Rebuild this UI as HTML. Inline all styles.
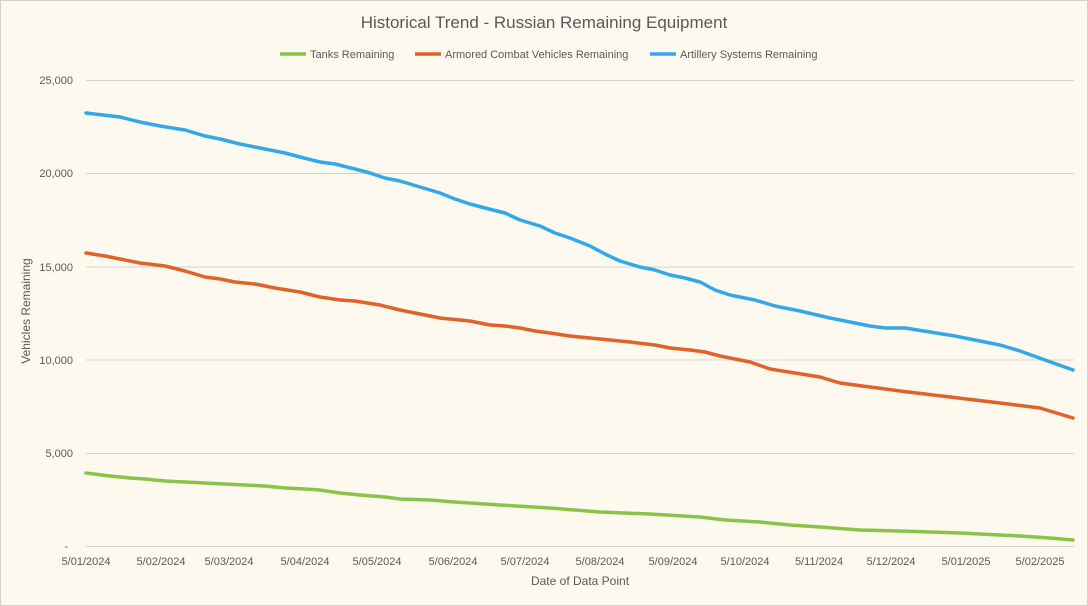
<!DOCTYPE html>
<html><head><meta charset="utf-8"><style>
html,body{margin:0;padding:0;background:#fdf9ee;}
svg{display:block;font-family:"Liberation Sans",sans-serif;}
</style></head><body>
<svg width="1088" height="606" viewBox="0 0 1088 606">
<rect x="0.5" y="0.5" width="1087" height="605" fill="#fdf9ee" stroke="#d0d0d0"/>
<text x="544" y="28" text-anchor="middle" font-size="17" fill="#595959">Historical Trend - Russian Remaining Equipment</text>
<g font-size="11" fill="#595959">
<line x1="280" y1="54" x2="306" y2="54" stroke="#8bc34a" stroke-width="3.5"/><text x="310" y="58">Tanks Remaining</text>
<line x1="415" y1="54" x2="441" y2="54" stroke="#e0622a" stroke-width="3.5"/><text x="445" y="58">Armored Combat Vehicles Remaining</text>
<line x1="650" y1="54" x2="676" y2="54" stroke="#33a8e8" stroke-width="3.5"/><text x="680" y="58">Artillery Systems Remaining</text>
</g>
<g stroke="#d3d3d3" stroke-width="1">
<line x1="86" y1="80.5" x2="1074" y2="80.5"/><line x1="86" y1="173.5" x2="1074" y2="173.5"/><line x1="86" y1="267" x2="1074" y2="267"/><line x1="86" y1="360" x2="1074" y2="360"/><line x1="86" y1="453.5" x2="1074" y2="453.5"/><line x1="86" y1="546.5" x2="1074" y2="546.5"/>
</g>
<g font-size="11" fill="#595959" text-anchor="end">
<text x="73" y="84">25,000</text><text x="73" y="177">20,000</text><text x="73" y="271">15,000</text><text x="73" y="364">10,000</text><text x="73" y="457">5,000</text><text x="68" y="550">-</text>
</g>
<g font-size="11" fill="#595959" text-anchor="middle">
<text x="86" y="565">5/01/2024</text><text x="161" y="565">5/02/2024</text><text x="229" y="565">5/03/2024</text><text x="305" y="565">5/04/2024</text><text x="377" y="565">5/05/2024</text><text x="453" y="565">5/06/2024</text><text x="525" y="565">5/07/2024</text><text x="600" y="565">5/08/2024</text><text x="673" y="565">5/09/2024</text><text x="745" y="565">5/10/2024</text><text x="819" y="565">5/11/2024</text><text x="891" y="565">5/12/2024</text><text x="966" y="565">5/01/2025</text><text x="1040" y="565">5/02/2025</text>
</g>
<text x="580" y="585" text-anchor="middle" font-size="12" fill="#595959">Date of Data Point</text>
<text transform="translate(30,311) rotate(-90)" text-anchor="middle" font-size="12" fill="#595959">Vehicles Remaining</text>
<g fill="none" stroke-width="3.5" stroke-linejoin="round" stroke-linecap="round">
<polyline stroke="#33a8e8" points="86,113 120,117 140,122 160,126 185,130 205,136 220,139 240,144 265,149 285,153 300,157 320,162 335,164 355,169 370,173 385,178 400,181 420,187 440,193 455,199 470,204 485,208 505,213 520,220 540,226 555,233 570,238 590,246 605,254 620,261 640,267 655,270 670,275 685,278 700,282 715,290 730,295 755,300 775,306 800,311 830,318 855,323 870,326 885,328 905,328 930,332 955,336 980,341 1000,345 1020,351 1045,360 1073,370"/>
<polyline stroke="#e0622a" points="86,253 105,256 120,259 140,263 165,266 185,271 205,277 220,279 235,282 255,284 275,288 300,292 320,297 340,300 355,301 380,305 400,310 420,314 440,318 470,321 490,325 505,326 520,328 535,331 550,333 570,336 600,339 630,342 655,345 670,348 690,350 705,352 720,356 750,362 770,369 795,373 820,377 840,383 870,387 900,391 925,394 950,397 975,400 1000,403 1040,408 1073,418"/>
<polyline stroke="#8bc34a" points="86,473 110,476 130,478 145,479 165,481 185,482 205,483 225,484 245,485 265,486 285,488 305,489 320,490 340,493 360,495 385,497 400,499 430,500 455,502 500,505 550,508 600,512 650,514 700,517 725,520 760,522 790,525 820,527 860,530 900,531 960,533 1020,536 1050,538 1073,540"/>
</g>
</svg>
</body></html>
